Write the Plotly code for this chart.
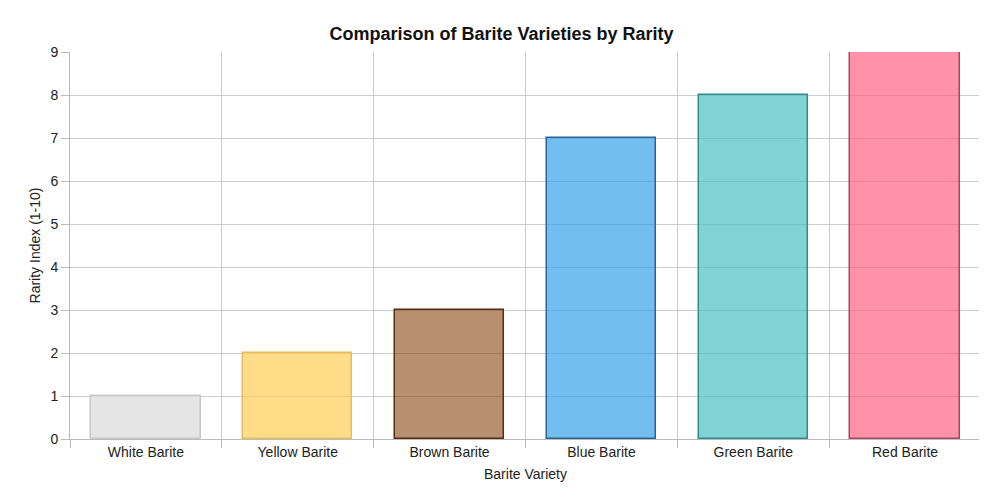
import plotly.graph_objects as go

varieties = ['White Barite', 'Yellow Barite', 'Brown Barite', 'Blue Barite', 'Green Barite', 'Red Barite']
rarity = [1, 2, 3, 7, 8, 9]
fill_colors = ['rgba(220,220,220,0.75)', 'rgba(255,206,86,0.7)', 'rgba(139,69,19,0.6)',
               'rgba(54,162,235,0.7)', 'rgba(75,192,192,0.7)', 'rgba(255,99,132,0.7)']
line_colors = ['rgb(200,200,200)', 'rgb(230,190,90)', 'rgb(90,45,15)',
               'rgb(40,100,150)', 'rgb(50,140,140)', 'rgb(170,70,95)']

positions = list(range(len(varieties)))
boundaries = [p - 0.5 for p in positions] + [positions[-1] + 0.5]

fig = go.Figure(go.Bar(
    x=positions, y=rarity, width=0.72, cliponaxis=False,
    marker=dict(color=fill_colors, line=dict(color=line_colors, width=1.5)),
    hovertext=varieties,
))

fig.update_layout(
    width=987, height=496,
    margin=dict(l=62, r=14, t=44, b=65, autoexpand=False),
    plot_bgcolor='white', paper_bgcolor='white',
    font=dict(family='Liberation Sans, Arial, sans-serif', size=14, color='#222'),
    title=dict(text='<b>Comparison of Barite Varieties by Rarity</b>', x=0.5, y=0.96,
               font=dict(size=18, color='#111')),
    showlegend=False,
    bargap=0,
)
fig.update_xaxes(
    automargin=False,
    range=[-0.5, len(varieties) - 0.5], tickvals=positions, ticktext=varieties,
    showgrid=False, zeroline=False, showline=True, linecolor='#bbb',
    title=dict(text='Barite Variety', standoff=10, font=dict(size=14)),
    minor=dict(tickvals=boundaries, showgrid=True, gridcolor='#ccc',
               ticks='outside', ticklen=8, tickcolor='#bbb'),
)
fig.update_yaxes(
    automargin=False,
    range=[0, 9], dtick=1, showgrid=True, gridcolor='#ccc', zeroline=False,
    showline=True, linecolor='#bbb', ticks='outside', ticklen=8, tickcolor='#bbb',
    title=dict(text='Rarity Index (1-10)', standoff=6, font=dict(size=14)),
)

fig.write_html('out.html')
